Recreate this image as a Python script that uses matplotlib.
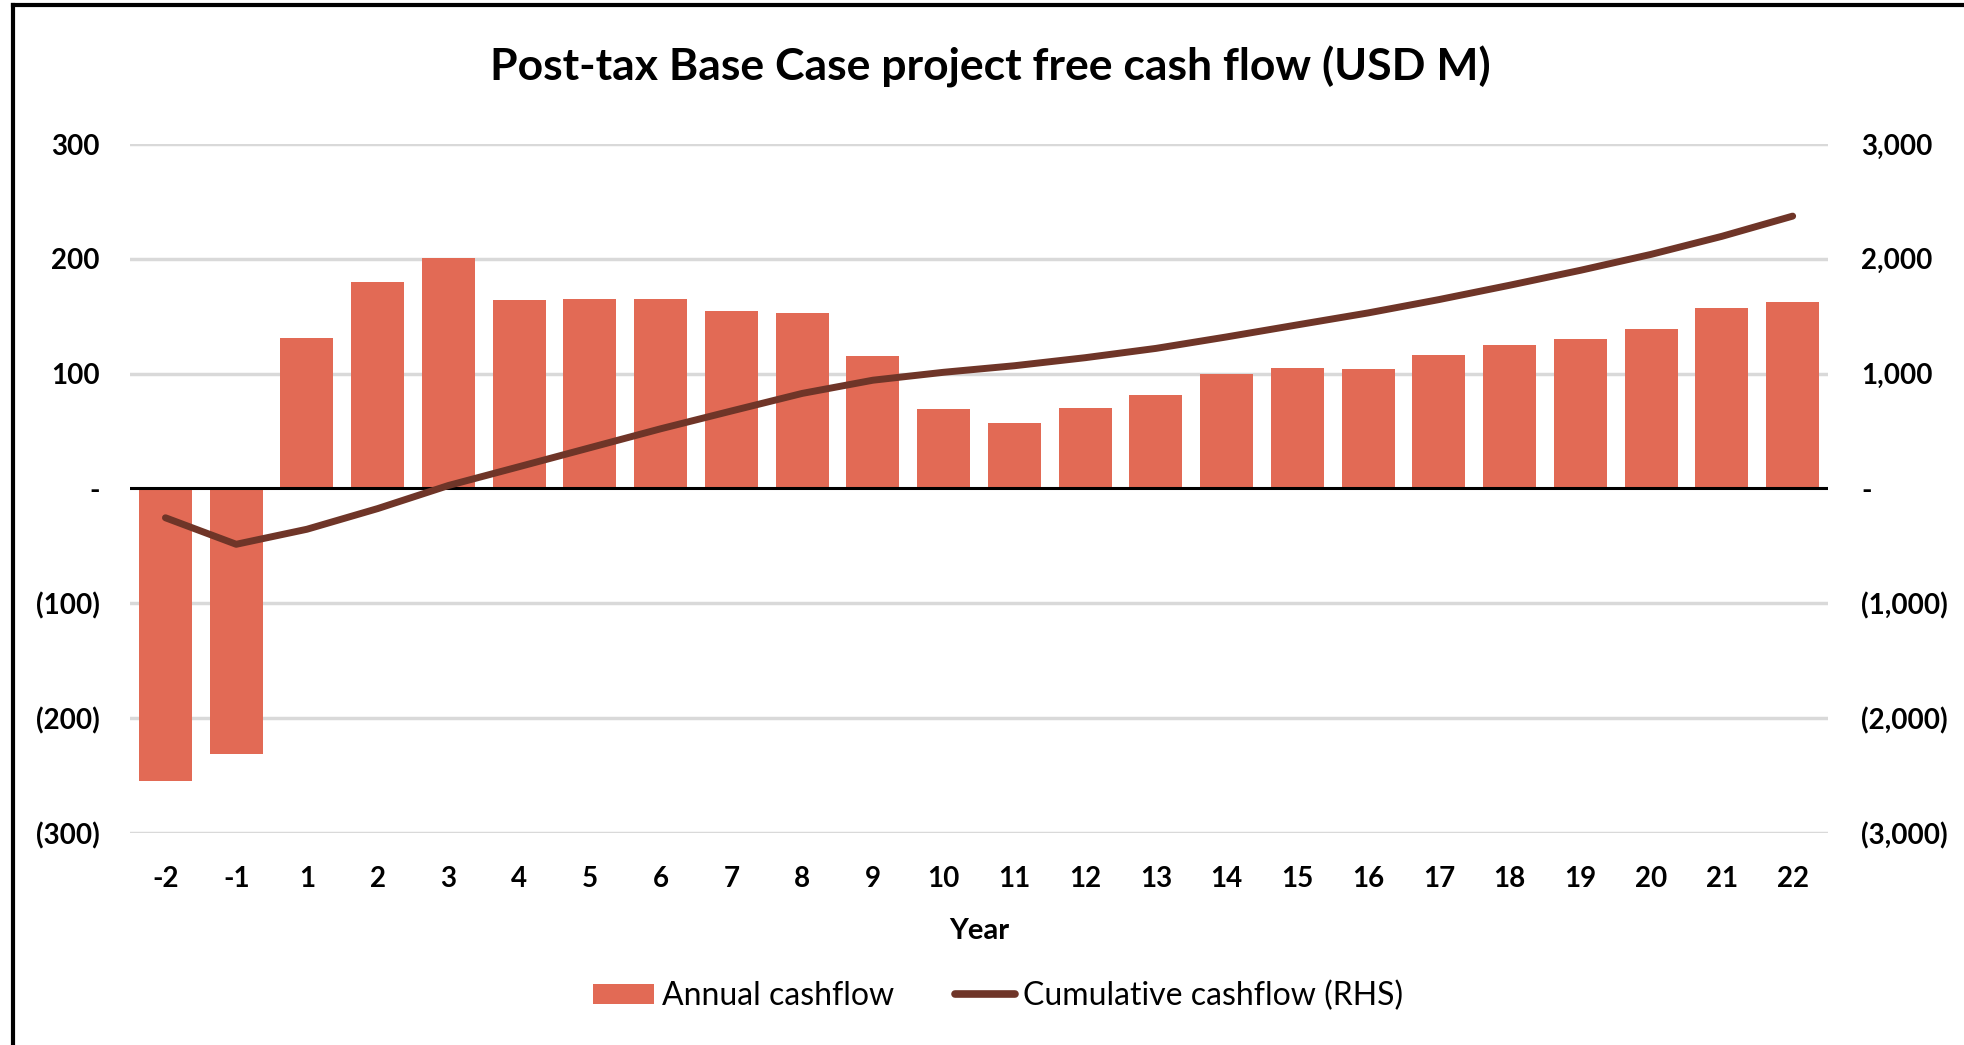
import matplotlib
matplotlib.use("Agg")
import matplotlib.pyplot as plt
import numpy as np
from matplotlib.lines import Line2D
from matplotlib.patches import Patch

plt.rcParams['font.family'] = ['Lato', 'DejaVu Sans']

years = ['-2', '-1'] + [str(i) for i in range(1, 23)]
annual = [-255, -231, 131, 180, 201, 164, 165, 165, 155, 153, 115, 69, 57,
          70, 81, 100, 105, 104, 116, 125, 130, 139, 157, 162]
cumulative = [-255, -486, -355, -175, 26, 190, 355, 520, 675, 828, 943, 1012,
              1069, 1139, 1220, 1320, 1425, 1529, 1645, 1770, 1900, 2039,
              2196, 2372]

left_ticks = [300, 200, 100, 0, -100, -200, -300]
left_labels = ['300', '200', '100', '-', '(100)', '(200)', '(300)']
right_ticks = [3000, 2000, 1000, 0, -1000, -2000, -3000]
right_labels = ['3,000', '2,000', '1,000', '-', '(1,000)', '(2,000)', '(3,000)']

bar_color = '#E26A55'
line_color = '#6F3528'
grid_color = '#D9D9D9'

fig = plt.figure(figsize=(19.65, 10.45), dpi=100)
ax = fig.add_axes([0.0662, 0.2029, 0.8641, 0.6593])
x = np.arange(len(years))

ax.bar(x, annual, width=0.75, color=bar_color, zorder=2)
ax.set_xlim(-0.5, len(years) - 0.5)
ax.set_ylim(-300, 300)
ax.set_yticks(left_ticks)
ax.set_yticklabels(left_labels)
ax.set_xticks(x)
ax.set_xticklabels(years)
for yv in left_ticks:
    if yv != 0:
        ax.axhline(yv, color=grid_color, lw=2.5, zorder=0)
ax.axhline(0, color='black', lw=2.2, zorder=3)
for s in ax.spines.values():
    s.set_visible(False)
ax.tick_params(axis='both', length=0, labelsize=20)
ax.tick_params(axis='y', pad=22)
ax.tick_params(axis='x', pad=24)
for lab in ax.get_xticklabels() + ax.get_yticklabels():
    lab.set_fontweight('bold')

ax2 = ax.twinx()
ax2.plot(x, cumulative, color=line_color, lw=5, solid_capstyle='round', zorder=4)
ax2.set_ylim(-3000, 3000)
ax2.set_yticks(right_ticks)
ax2.set_yticklabels(right_labels)
for s in ax2.spines.values():
    s.set_visible(False)
ax2.tick_params(axis='y', length=0, labelsize=20, pad=24)
for lab in ax2.get_yticklabels():
    lab.set_fontweight('bold')

fig.text(0.504, 0.936, 'Post-tax Base Case project free cash flow (USD M)',
         ha='center', va='center', fontsize=32, fontweight='bold')
fig.text(0.4985, 0.109, 'Year', ha='center', va='center', fontsize=21, fontweight='bold')

handles = [Patch(facecolor=bar_color, edgecolor='none'),
           Line2D([0], [0], color=line_color, lw=5.5, solid_capstyle='round')]
fig.legend(handles, ['Annual cashflow', 'Cumulative cashflow (RHS)'],
           loc='center', bbox_to_anchor=(0.508, 0.047), ncol=2, frameon=False,
           fontsize=23, handlelength=1.9, handleheight=0.6, handletextpad=0.25,
           columnspacing=1.9)

# frame edges visible in the source image
fig.add_artist(Line2D([0.0065, 0.0065], [0, 0.995], color='black', lw=3,
                      transform=fig.transFigure))
fig.add_artist(Line2D([0.0065, 1], [0.995, 0.995], color='black', lw=3,
                      transform=fig.transFigure))

fig.savefig('out.png', dpi=100)
